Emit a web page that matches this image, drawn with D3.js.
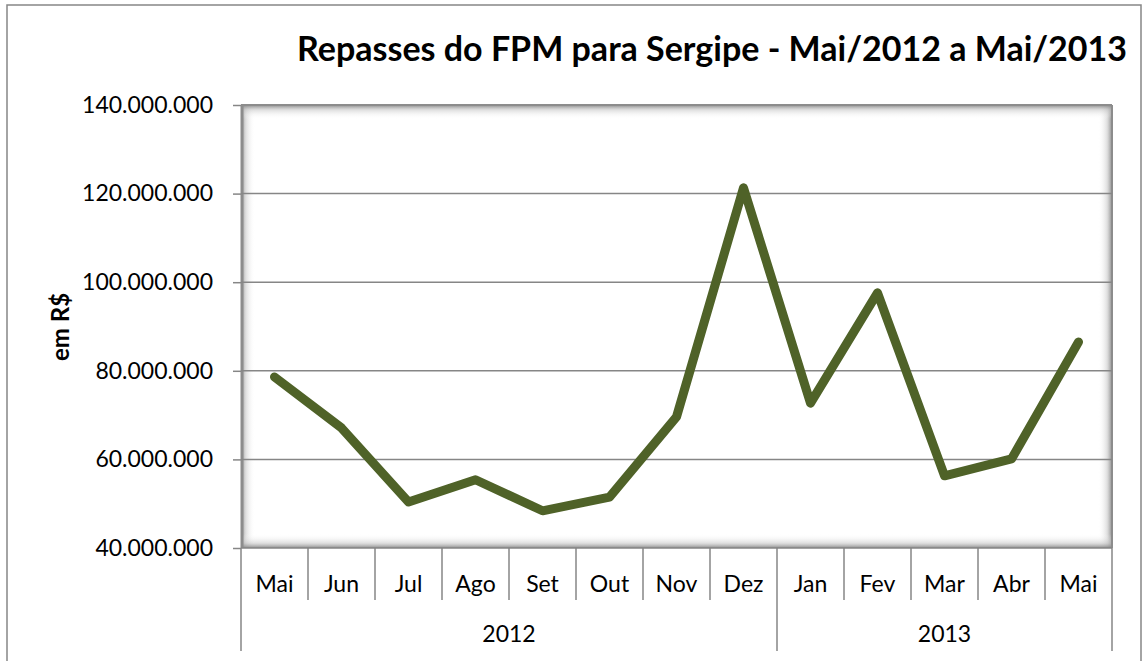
<!DOCTYPE html>
<html><head><meta charset="utf-8">
<script src="https://cdn.jsdelivr.net/npm/d3@7"></script>
<style>body{margin:0;background:#fff}svg{display:block}text{font-family:Lato,"Open Sans",sans-serif;fill:#000}</style>
</head><body><svg id="c" width="1142" height="661"></svg>
<script>
const months = ["Mai","Jun","Jul","Ago","Set","Out","Nov","Dez","Jan","Fev","Mar","Abr","Mai"];
const years = ["2012","2012","2012","2012","2012","2012","2012","2012","2013","2013","2013","2013","2013"];
const values = [78.6,67.1,50.4,55.4,48.4,51.5,69.6,121.3,72.7,97.6,56.3,60.1,86.5].map(v=>v*1e6);
const yTicks = [40e6,60e6,80e6,100e6,120e6,140e6];
const title = "Repasses do FPM para Sergipe - Mai/2012 a Mai/2013";
const yLabel = "em R$";

const svg = d3.select("#c");
const L=241,R=1112,T=105,B=548;
const x = d3.scaleBand().domain(d3.range(months.length)).range([L,R]).padding(0);
const y = d3.scaleLinear().domain([40e6,140e6]).range([B,T]);
const fmt = v => d3.format(",")(v).replace(/,/g,".");

// outer border
svg.append("rect").attr("x",7).attr("y",5).attr("width",1134).attr("height",670)
  .attr("fill","none").attr("stroke","#868686").attr("stroke-width",1.5);

// plot area shadow
const defs = svg.append("defs");
function grad(id,x1,y1,x2,y2){
  const g=defs.append("linearGradient").attr("id",id).attr("x1",x1).attr("y1",y1).attr("x2",x2).attr("y2",y2);
  g.append("stop").attr("offset",0).attr("stop-color","#7f7f7f").attr("stop-opacity",0.9);
  g.append("stop").attr("offset",0.35).attr("stop-color","#bfbfbf").attr("stop-opacity",0.5);
  g.append("stop").attr("offset",1).attr("stop-color","#fff").attr("stop-opacity",0);
}
grad("gl",0,0,1,0);grad("gr",1,0,0,0);grad("gt",0,0,0,1);grad("gb",0,1,0,0);
const s=14;
svg.append("rect").attr("x",L).attr("y",T).attr("width",s).attr("height",B-T).attr("fill","url(#gl)");
svg.append("rect").attr("x",R-s).attr("y",T).attr("width",s).attr("height",B-T).attr("fill","url(#gr)");
svg.append("rect").attr("x",L).attr("y",T).attr("width",R-L).attr("height",s).attr("fill","url(#gt)");
svg.append("rect").attr("x",L).attr("y",B-s).attr("width",R-L).attr("height",s).attr("fill","url(#gb)");
svg.append("line").attr("x1",L).attr("x2",R).attr("y1",T).attr("y2",T).attr("stroke","#8c8c8c").attr("stroke-width",2);
svg.append("line").attr("x1",R).attr("x2",R).attr("y1",T).attr("y2",B).attr("stroke","#8c8c8c").attr("stroke-width",2);
svg.append("line").attr("x1",L+1).attr("x2",L+1).attr("y1",T).attr("y2",B).attr("stroke","#8c8c8c").attr("stroke-width",3);

// gridlines
svg.append("g").selectAll("line").data(yTicks.slice(1,-1)).join("line")
  .attr("x1",L).attr("x2",R).attr("y1",d=>y(d)).attr("y2",d=>y(d))
  .attr("stroke","#868686").attr("stroke-width",1.5);

// y axis
const ya = svg.append("g").attr("transform",`translate(${L},0)`)
  .call(d3.axisLeft(y).tickValues(yTicks).tickFormat(fmt).tickSize(8).tickPadding(20));
ya.select(".domain").remove();
ya.selectAll("line").attr("stroke","#868686").attr("stroke-width",1.5);
ya.selectAll("text").attr("font-size",23).style("font-family","Lato,sans-serif").attr("fill","#000");

// x axis
svg.append("line").attr("x1",L).attr("x2",R).attr("y1",B).attr("y2",B).attr("stroke","#868686").attr("stroke-width",1.5);
const bounds = d3.range(months.length+1);
svg.append("g").selectAll("line").data(bounds).join("line")
  .attr("x1",i=>i<months.length?x(i):R).attr("x2",i=>i<months.length?x(i):R)
  .attr("y1",B).attr("y2",i=>(i===0||i===months.length||years[i]!==years[i-1])?651:600)
  .attr("stroke","#868686").attr("stroke-width",1.5);
svg.append("g").selectAll("text").data(months).join("text")
  .attr("x",(d,i)=>x(i)+x.bandwidth()/2).attr("y",592).attr("text-anchor","middle")
  .attr("font-size",23).text(d=>d);
const yrs = d3.groups(years.map((yv,i)=>({yv,i})),d=>d.yv);
svg.append("g").selectAll("text").data(yrs).join("text")
  .attr("x",d=>(x(d[1][0].i)+x(d[1][d[1].length-1].i)+x.bandwidth())/2).attr("y",642)
  .attr("text-anchor","middle").attr("font-size",23).text(d=>d[0]);

// line
svg.append("path").datum(values)
  .attr("d",d3.line().x((d,i)=>x(i)+x.bandwidth()/2).y(d=>y(d)))
  .attr("fill","none").attr("stroke","#4f6228").attr("stroke-width",9)
  .attr("stroke-linejoin","round").attr("stroke-linecap","round");

// title
svg.append("text").attr("x",1127).attr("y",61).attr("text-anchor","end")
  .attr("font-size",34).attr("font-weight","bold").text(title);
svg.append("text").attr("transform","translate(69,327) rotate(-90)").attr("text-anchor","middle")
  .attr("font-size",24).attr("font-weight","bold").text(yLabel);
</script></body></html>
